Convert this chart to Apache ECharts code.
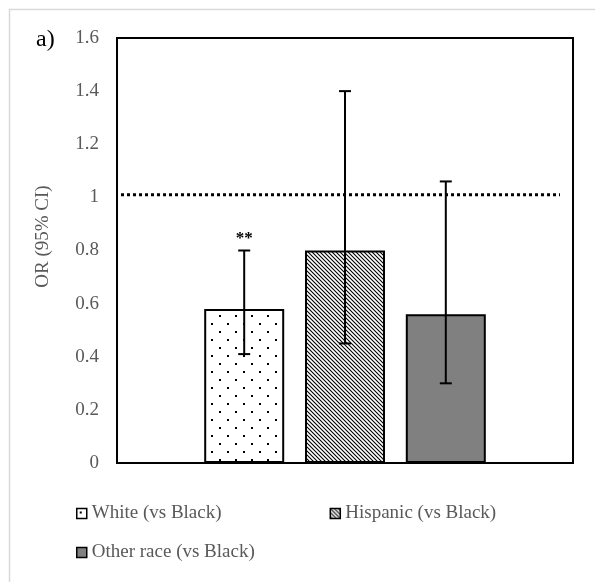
<!DOCTYPE html>
<html>
<head>
<meta charset="utf-8">
<script src="https://cdn.jsdelivr.net/npm/echarts@6/dist/echarts.min.js"></script>
<style>
  html, body { margin: 0; padding: 0; background: #fff; }
  #chart { width: 595px; height: 582px; }
</style>
</head>
<body>
<div id="chart"></div>
<script>
// Odds ratios by race/ethnicity, Black as reference group
const groups = ['White (vs Black)', 'Hispanic (vs Black)', 'Other race (vs Black)'];
const oddsRatios = [0.58, 0.80, 0.56];
const ciLower = [0.41, 0.45, 0.30];
const ciUpper = [0.80, 1.40, 1.06];
const sigMarks = ['**', '', ''];
const referenceLine = 1.01;
const yTicks = { min: 0, max: 1.6, interval: 0.2 };

const FONT = "'Liberation Serif', 'Times New Roman', serif";
const GRAY_TEXT = '#595959';
const BAR_W = 80;
const BAR_GAP = 0.26;

// Fill patterns for the bars
function dotPattern() {
  const c = document.createElement('canvas');
  c.width = 16; c.height = 16;
  const g = c.getContext('2d');
  g.fillStyle = '#fff'; g.fillRect(0, 0, 16, 16);
  g.fillStyle = '#000';
  g.fillRect(3, 3, 2, 2);
  g.fillRect(11, 11, 2, 2);
  return c;
}
function diagPattern() {
  const s = 4;
  const c = document.createElement('canvas');
  c.width = s; c.height = s;
  const g = c.getContext('2d');
  g.fillStyle = '#fff'; g.fillRect(0, 0, s, s);
  g.strokeStyle = '#000'; g.lineWidth = 1.1;
  g.beginPath();
  g.moveTo(-1, -1); g.lineTo(s + 1, s + 1);
  g.moveTo(-1, s - 1); g.lineTo(1, s + 1);
  g.moveTo(s - 1, -1); g.lineTo(s + 1, 1);
  g.stroke();
  return c;
}
const fills = [
  { image: dotPattern(), repeat: 'repeat' },
  { image: diagPattern(), repeat: 'repeat' },
  '#808080'
];

const barSeries = groups.map((name, i) => ({
  name: name,
  type: 'bar',
  data: [oddsRatios[i]],
  barWidth: BAR_W,
  barGap: (BAR_GAP * 100) + '%',
  itemStyle: { color: fills[i], borderColor: '#000', borderWidth: 2 },
  emphasis: { disabled: true },
  z: 2
}));

// Confidence-interval whiskers, placed over each grouped bar
const ciData = groups.map((g, i) => [0, ciLower[i], ciUpper[i], i]);
const ciSeries = {
  type: 'custom',
  name: 'ci',
  data: ciData,
  encode: { x: 0, y: [1, 2] },
  z: 5,
  silent: true,
  renderItem: function (params, api) {
    const idx = api.value(3);
    const lo = api.coord([api.value(0), api.value(1)]);
    const hi = api.coord([api.value(0), api.value(2)]);
    const n = groups.length;
    const step = BAR_W * (1 + BAR_GAP);
    const x = lo[0] + (idx - (n - 1) / 2) * step;
    const cap = 6;
    const style = { stroke: '#000', lineWidth: 2 };
    const children = [
      { type: 'line', shape: { x1: x, y1: lo[1], x2: x, y2: hi[1] }, style: style },
      { type: 'line', shape: { x1: x - cap, y1: lo[1], x2: x + cap, y2: lo[1] }, style: style },
      { type: 'line', shape: { x1: x - cap, y1: hi[1], x2: x + cap, y2: hi[1] }, style: style }
    ];
    const mark = sigMarks[idx];
    if (mark) {
      children.push({
        type: 'text',
        style: {
          x: x, y: hi[1] - 3, text: mark, align: 'center', verticalAlign: 'bottom',
          font: 'bold 17px ' + FONT, fill: '#000'
        }
      });
    }
    return { type: 'group', children: children };
  }
};

// Dotted reference line at OR = 1
const refSeries = {
  type: 'custom',
  name: 'ref',
  data: [[0, referenceLine]],
  encode: { x: 0, y: 1 },
  z: 4,
  silent: true,
  renderItem: function (params, api) {
    const cs = params.coordSys;
    const p = api.coord([api.value(0), api.value(1)]);
    return {
      type: 'line',
      shape: { x1: cs.x + 4, y1: p[1], x2: cs.x + cs.width - 13, y2: p[1] },
      style: { stroke: '#000', lineWidth: 3, lineDash: [3, 3] }
    };
  }
};

const legendText = { color: GRAY_TEXT, fontSize: 19, fontFamily: FONT };
const legendItem = name => ({ name: name, itemStyle: { borderColor: '#000', borderWidth: 1.5 } });

const chart = echarts.init(document.getElementById('chart'), null, { renderer: 'canvas' });
chart.setOption({
  animation: false,
  backgroundColor: '#fff',
  textStyle: { fontFamily: FONT },
  title: {
    text: 'a)', left: 31, top: 23,
    textStyle: { color: '#000', fontSize: 24, fontWeight: 'normal', fontFamily: FONT }
  },
  graphic: [{
    type: 'rect', left: 7, top: 7, silent: true,
    shape: { width: 700, height: 700 },
    style: { fill: 'none', stroke: '#d9d9d9', lineWidth: 1.5 }
  }],
  grid: {
    left: 117, right: 22, top: 38, bottom: 119,
    show: true, borderColor: '#000', borderWidth: 2, backgroundColor: 'transparent'
  },
  legend: [{
    data: groups.slice(0, 2).map(legendItem),
    left: 71, top: 499, icon: 'rect', itemWidth: 10, itemHeight: 10, itemGap: 108,
    textStyle: legendText, selectedMode: false
  }, {
    data: groups.slice(2).map(legendItem),
    left: 71, top: 538, icon: 'rect', itemWidth: 10, itemHeight: 10,
    textStyle: legendText, selectedMode: false
  }],
  xAxis: {
    type: 'category',
    data: ['OR'],
    axisLine: { show: true, lineStyle: { color: '#000', width: 2 } },
    axisTick: { show: false },
    axisLabel: { show: false }
  },
  yAxis: {
    type: 'value',
    min: yTicks.min, max: yTicks.max, interval: yTicks.interval,
    name: 'OR (95% CI)',
    nameLocation: 'middle',
    nameGap: 64,
    nameTextStyle: { color: GRAY_TEXT, fontSize: 19, fontFamily: FONT, padding: [0, 0, 0, 28] },
    axisLine: { show: true, lineStyle: { color: '#000', width: 2 } },
    axisTick: { show: false },
    splitLine: { show: false },
    axisLabel: { color: GRAY_TEXT, fontSize: 19, fontFamily: FONT, margin: 18 }
  },
  series: barSeries.concat([refSeries, ciSeries])
});
</script>
</body>
</html>
